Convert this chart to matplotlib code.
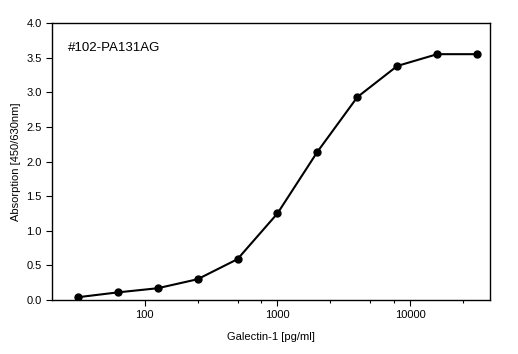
import matplotlib
matplotlib.use("Agg")
import matplotlib.pyplot as plt
from matplotlib.ticker import FixedLocator, NullFormatter

plt.rcParams['font.family'] = ['Liberation Sans', 'DejaVu Sans']

# Galectin-1 standard curve
concentration = [31.25, 62.5, 125, 250, 500, 1000, 2000, 4000, 8000, 16000, 32000]
absorption = [0.04, 0.11, 0.17, 0.30, 0.59, 1.25, 2.14, 2.93, 3.38, 3.55, 3.55]

major_x = [100, 1000, 10000]
minor_x = [250, 500, 750, 2500, 5000, 7500, 25000]
y_ticks = [0.0, 0.5, 1.0, 1.5, 2.0, 2.5, 3.0, 3.5, 4.0]

fig = plt.figure(figsize=(5.18, 3.54), dpi=100)
ax = fig.add_axes([0.1004, 0.1525, 0.8456, 0.7825])

ax.plot(concentration, absorption, color='black', linewidth=1.5,
        marker='o', markersize=5)

ax.set_xscale('log')
ax.set_xlim(20, 40000)
ax.set_ylim(0, 4.0)

ax.xaxis.set_major_locator(FixedLocator(major_x))
ax.xaxis.set_minor_locator(FixedLocator(minor_x))
ax.xaxis.set_minor_formatter(NullFormatter())
ax.set_xticklabels([str(v) for v in major_x])
ax.set_yticks(y_ticks)
ax.set_yticklabels([f"{v:.1f}" for v in y_ticks])

ax.tick_params(axis='both', which='major', direction='out', length=4,
               width=0.8, labelsize=8, color='black')
ax.tick_params(axis='x', which='minor', direction='out', length=2.5, width=0.8)
for s in ax.spines.values():
    s.set_linewidth(1.0)

ax.set_xlabel("Galectin-1 [pg/ml]", fontsize=8, labelpad=8)
ax.set_ylabel("Absorption [450/630nm]", fontsize=8, labelpad=4)

ax.text(0.037, 0.90, "#102-PA131AG", transform=ax.transAxes,
        fontsize=9.5, va='baseline', ha='left')

fig.savefig("out.png", dpi=100)
